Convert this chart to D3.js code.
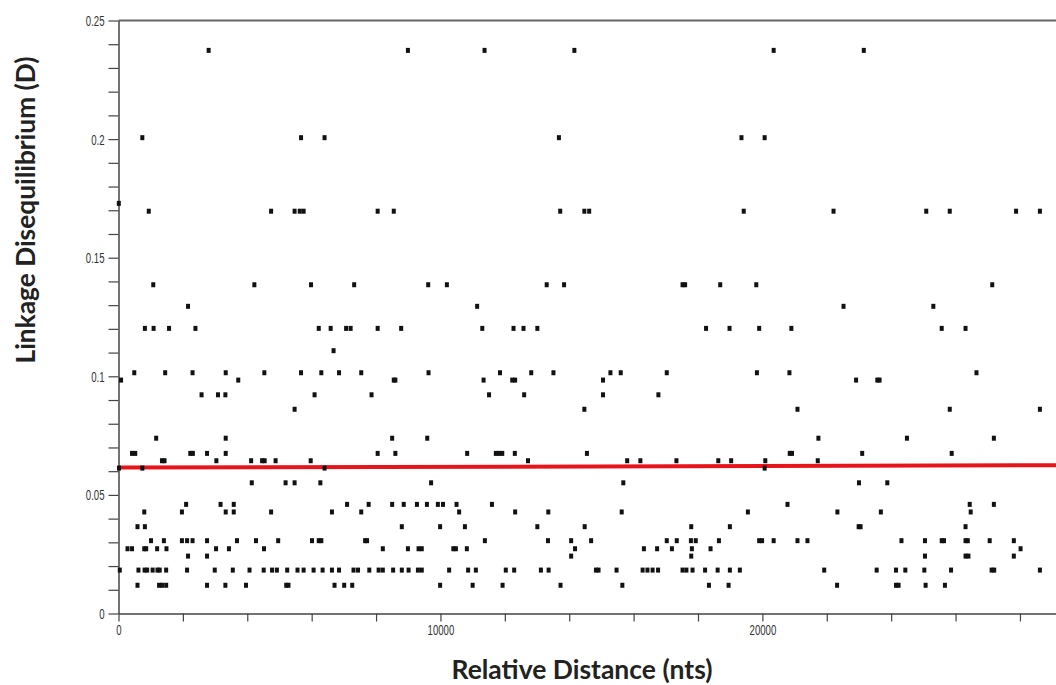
<!DOCTYPE html>
<html>
<head>
<meta charset="utf-8">
<script src="https://cdn.jsdelivr.net/npm/d3@7"></script>
<style>
  body { margin: 0; background: #fff; }
</style>
</head>
<body>
<div id="ld_plot"></div>
<script>
// D values only come in a few steps, so the points are kept per level
var dLevels = [0.2374, 0.2006, 0.1729, 0.1696, 0.1386, 0.1295, 0.1202, 0.1108, 0.1015, 0.0984,
  0.0922, 0.0861, 0.0739, 0.0675, 0.0644, 0.0613, 0.0551, 0.0460, 0.0428, 0.0366,
  0.0307, 0.0273, 0.0242, 0.0183, 0.0119];

// relative distance (nts) of every pair at each level, same order as dLevels
var distances = [
  [2800, 8990, 11370, 14160, 20350, 23150],
  [740, 5670, 6400, 13680, 19350, 20070],
  [10],
  [940, 4740, 5470, 5630, 5750, 8050, 8550, 13720, 14470, 14620, 19420, 22210, 25090, 25820, 27880, 28620],
  [1080, 4220, 5980, 7320, 9620, 10200, 13300, 13840, 17520, 17600, 18690, 19810, 27140],
  [2160, 11140, 22520, 25310],
  [820, 1090, 1570, 2390, 6220, 6590, 7070, 7210, 8050, 8780, 11300, 12270, 12580, 13010, 18250, 18980, 19900, 20900, 25570, 26310],
  [6680],
  [490, 1450, 2300, 3330, 4530, 5670, 6300, 6850, 7540, 9630, 11850, 12820, 13510, 15280, 15600, 17030, 19830, 20840, 26650],
  [80, 3720, 8550, 8600, 11340, 12230, 12320, 15050, 22910, 23570, 23640],
  [2580, 3090, 3320, 6090, 7860, 11510, 12600, 15050, 16770],
  [5470, 14470, 21090, 25820, 28620],
  [1170, 3330, 8500, 9590, 21740, 24490, 27190],
  [420, 520, 2230, 2310, 2750, 3330, 8050, 8600, 10830, 11720, 11820, 11920, 12310, 14550, 20850, 20920, 23100, 25880],
  [1350, 1430, 3040, 4120, 4460, 4540, 4880, 5970, 12720, 15800, 16210, 17330, 18630, 19030, 20090, 21720],
  [15, 740, 6400, 20070],
  [4140, 5190, 5470, 6270, 9710, 15680, 23000, 23880],
  [2100, 3170, 3580, 7100, 7770, 8500, 8860, 9270, 9580, 9920, 10080, 10500, 11600, 20780, 26440, 27190],
  [800, 1970, 3330, 3580, 4740, 6630, 7540, 10580, 12320, 13350, 15630, 19550, 22330, 23680, 26470],
  [590, 820, 8800, 9990, 10760, 13010, 14480, 17790, 18990, 22990, 23050, 26310],
  [1010, 1410, 1970, 2130, 2300, 2750, 3680, 4270, 4960, 6010, 6220, 6300, 7660, 7720, 11380, 13340, 14060, 14680,
    17030, 17340, 17780, 17930, 18650, 19900, 19990, 20350, 21090, 21400, 24320, 25050, 25570, 25640, 26310, 26380, 27060, 27810],
  [280, 420, 800, 860, 1200, 1490, 3030, 3430, 4520, 8210, 8990, 9320, 9420, 10400, 10480, 10820, 14180, 16320, 16730, 17190, 17810, 18390, 28020],
  [2160, 2750, 14060, 17790, 25050, 26310, 26400, 27810],
  [40, 620, 810, 890, 1060, 1210, 1280, 1480, 2130, 2990, 3550, 4070, 4510, 4770, 4920, 5240, 5560, 5750, 6060, 6340,
    6630, 6850, 7300, 7440, 7790, 8080, 8210, 8530, 8800, 9010, 9300, 9420, 10270, 10860, 11100, 12030, 12290, 13120,
    13360, 14830, 14910, 15470, 16280, 16430, 16590, 16760, 17520, 17640, 17830, 18220, 18610, 18990, 19300, 21920,
    23550, 24150, 24440, 25030, 25860, 27120, 27200, 28620],
  [590, 1260, 1350, 1480, 2750, 3320, 3960, 5210, 5280, 6710, 7010, 7260, 9990, 11000, 11930, 13730, 15650, 18340,
    18950, 22320, 24150, 24230, 25070, 25670]
];

// fitted trend line (red), ends only
var trendX = [0, 29120];
var trendD = [0.0615, 0.0625];

// labelled ticks
var xLabels = [0, 10000, 20000];
var yLabels = [0, 0.05, 0.1, 0.15, 0.2, 0.25];

var width = 1056
height = 685

var svg = d3.select("#ld_plot")
  .append("svg")
  .attr("width", width)
  .attr("height", height)
  .style("display", "block");

var x = d3.scaleLinear().domain([0, 29120]).range([118.5, 1056]);
var y = d3.scaleLinear().domain([0, 0.25]).range([613.5, 20.5]);

// top frame line
svg.append("line")
  .attr("x1", x(0)).attr("x2", width)
  .attr("y1", y(0.25)).attr("y2", y(0.25))
  .attr("stroke", "#666")
  .attr("stroke-width", 2);

// x axis, minor ticks every 2000
var xAxis = svg.append("g")
  .attr("transform", "translate(0," + y(0) + ")")
  .call(d3.axisBottom(x)
    .tickValues(d3.range(0, 29120, 2000))
    .tickSize(8)
    .tickPadding(3)
    .tickSizeOuter(0)
    .tickFormat(function (d) { return xLabels.indexOf(d) > -1 ? d : ""; }));

// y axis, minor ticks every 0.01
var yAxis = svg.append("g")
  .attr("transform", "translate(" + x(0) + ",0)")
  .call(d3.axisLeft(y)
    .tickValues(d3.range(0, 26).map(function (i) { return i / 100; }))
    .tickSize(10)
    .tickPadding(4)
    .tickSizeOuter(0)
    .tickFormat(function (d) {
      var lab = yLabels.find(function (v) { return Math.abs(v - d) < 1e-9; });
      return lab === undefined ? "" : String(lab);
    }));

[xAxis, yAxis].forEach(function (ax) {
  ax.select(".domain").attr("stroke", "#444").attr("stroke-width", 1.5);
  ax.selectAll(".tick line").attr("stroke", "#444").attr("stroke-width", 1.2);
  ax.selectAll("text")
    .attr("fill", "#333")
    .style("font-family", "'Liberation Sans', Arial, sans-serif")
    .style("font-size", "15.5px");
});

// narrow the tick labels like the original condensed font
xAxis.selectAll("text").attr("transform", "scale(0.62,1)");
yAxis.selectAll("text").attr("x", -14 / 0.62).attr("transform", "scale(0.62,1)");

// red trend line
var line = d3.line()
  .x(function (d) { return x(d[0]); })
  .y(function (d) { return y(d[1]); });

svg.append("path")
  .datum(d3.zip(trendX, trendD))
  .attr("d", line)
  .attr("fill", "none")
  .attr("stroke", "#e8141b")
  .attr("stroke-width", 4);

// flatten the levels into points
var points = [];
dLevels.forEach(function (lvl, i) {
  distances[i].forEach(function (pos) {
    points.push({ pos: pos, d: lvl });
  });
});

svg.selectAll(".pt")
  .data(points)
  .enter()
  .append("rect")
  .attr("class", "pt")
  .attr("x", function (p) { return x(p.pos) - 2; })
  .attr("y", function (p) { return y(p.d) - 2.5; })
  .attr("width", 4)
  .attr("height", 5)
  .attr("fill", "#111");

// axis titles
svg.append("text")
  .attr("x", 582)
  .attr("y", 679)
  .attr("text-anchor", "middle")
  .attr("textLength", 261)
  .attr("lengthAdjust", "spacingAndGlyphs")
  .style("font-family", "Lato, 'Open Sans', sans-serif")
  .style("font-weight", "bold")
  .style("font-size", "27px")
  .attr("fill", "#222")
  .text("Relative Distance (nts)");

svg.append("text")
  .attr("transform", "translate(35,210) rotate(-90)")
  .attr("text-anchor", "middle")
  .attr("textLength", 307)
  .attr("lengthAdjust", "spacingAndGlyphs")
  .style("font-family", "Lato, 'Open Sans', sans-serif")
  .style("font-weight", "bold")
  .style("font-size", "27px")
  .attr("fill", "#222")
  .text("Linkage Disequilibrium (D)");
</script>
</body>
</html>
